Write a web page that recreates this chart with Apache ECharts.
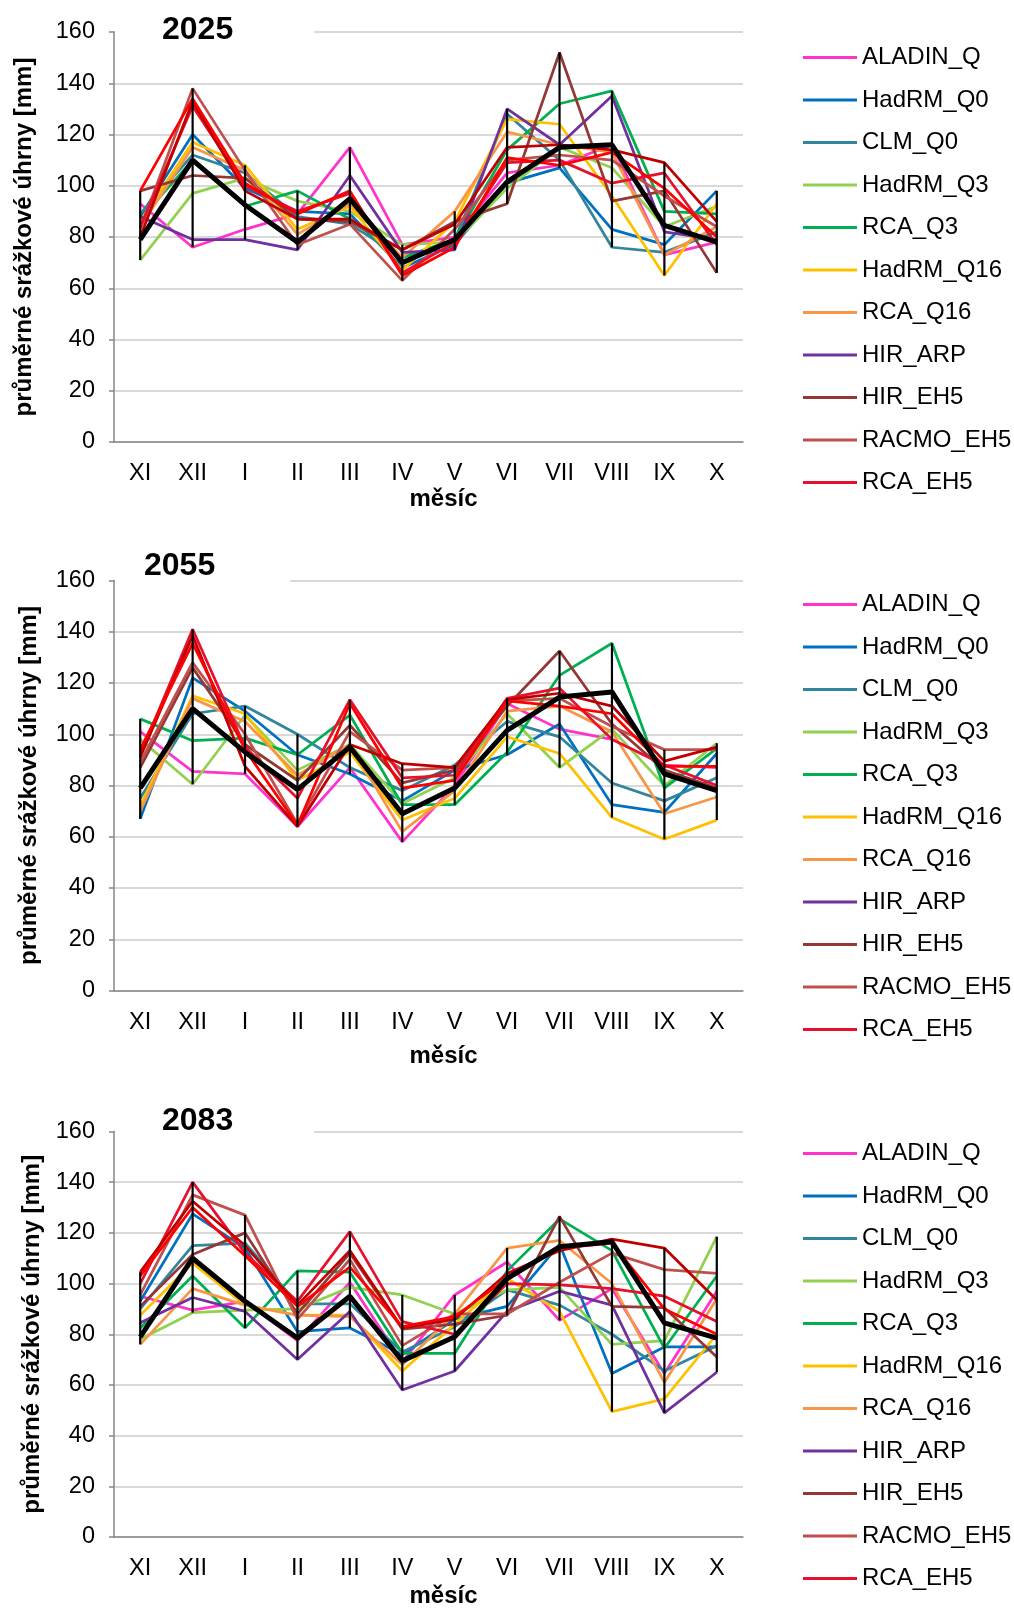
<!DOCTYPE html>
<html lang="cs">
<head>
<meta charset="utf-8">
<title>Průměrné srážkové úhrny</title>
<script src="https://cdn.jsdelivr.net/npm/echarts@6/dist/echarts.min.js"></script>
<style>
  html, body { margin: 0; padding: 0; background: #fff; }
  #chart { width: 1014px; height: 1609px; }
</style>
</head>
<body>
<div id="chart"></div>
<script>
// Months of the hydrological year (November .. October)
const months = ['XI', 'XII', 'I', 'II', 'III', 'IV', 'V', 'VI', 'VII', 'VIII', 'IX', 'X'];
const periods = ['2025', '2055', '2083'];
const modelNames = ['ALADIN_Q', 'HadRM_Q0', 'CLM_Q0', 'HadRM_Q3', 'RCA_Q3', 'HadRM_Q16',
                    'RCA_Q16', 'HIR_ARP', 'HIR_EH5', 'RACMO_EH5', 'RCA_EH5'];

// ---- 2025 ----
const ALADIN_Q_2025  = [93, 76, 83, 89, 115, 77, 80, 105, 108, 116, 73, 78];
const HadRM_Q0_2025  = [88, 120, 99, 90, 89, 68, 77, 101, 107, 83, 77, 98];
const CLM_Q0_2025    = [89, 112, 105, 88, 85, 72, 79, 128, 110, 76, 74, 82];
const HadRM_Q3_2025  = [71, 97, 103, 94, 90, 77, 78, 99, 115, 107, 84, 92];
const RCA_Q3_2025    = [87, 110, 92, 98, 87, 72, 79, 114, 132, 137, 90, 89];
const HadRM_Q16_2025 = [86, 117, 108, 83, 92, 67, 86, 126, 124, 96, 65, 93];
const RCA_Q16_2025   = [84, 115, 106, 81, 93, 72, 90, 121, 116, 113, 73, 84];
const HIR_ARP_2025   = [88, 79, 79, 75, 104, 74, 75, 130, 116, 135, 82, 79];
const HIR_EH5_2025   = [98, 104, 103, 87, 86, 75, 86, 93, 152, 94, 98, 66];
const RACMO_EH5_2025 = [83, 138, 106, 77, 85, 63, 83, 110, 112, 110, 96, 84];
const RCA_EH5_2025   = [84, 131, 100, 90, 97, 66, 78, 109, 110, 101, 105, 77];
const EH5_b_2025     = [80, 133, 98, 87, 87, 75, 85, 115, 116, 114, 109, 86];
const EH5_c_2025     = [98, 134, 101, 89, 98, 65, 76, 111, 108, 113, 99, 80];
const MEAN_2025      = [79, 110, 92.5, 78, 95, 70, 79, 101.5, 115, 116, 84.5, 78];

// ---- 2055 (no HIR_ARP run for this period) ----
const ALADIN_Q_2055  = [101, 85.5, 84.5, 64, 87, 58, 80, 112, 102, 98, 88, 87];
const HadRM_Q0_2055  = [67, 122, 109, 92, 84.5, 74, 86, 92, 104, 72.5, 69.5, 92.5];
const CLM_Q0_2055    = [75, 108, 111, 100, 87, 78, 88, 105, 99, 81, 74, 83];
const HadRM_Q3_2055  = [98, 80.5, 107.5, 86, 96, 73, 83, 108, 87, 102, 80, 96.5];
const RCA_Q3_2055    = [106, 97.5, 98.5, 92, 107.5, 72.5, 72.5, 93, 123, 135.5, 79, 94.5];
const HadRM_Q16_2055 = [72, 115, 108, 82, 93, 66.5, 75, 99, 92.5, 67.5, 59, 66.5];
const RCA_Q16_2055   = [70, 114, 105, 84, 96, 62, 78, 109, 111, 101, 69, 75.5];
const HIR_EH5_2055   = [87, 126, 96, 82, 103.5, 81, 86, 111, 132.5, 104, 86, 79];
const RACMO_EH5_2055 = [89, 128, 100, 65, 101, 86, 87, 113, 114, 103, 94, 94];
const RCA_EH5_2055   = [92, 141, 95, 75, 113.5, 83, 84, 114, 118, 98, 88, 80];
const EH5_b_2055     = [91, 138.5, 87.5, 64, 96, 88.5, 87, 113.5, 116, 111, 89.5, 95];
const EH5_c_2055     = [94, 135.5, 94, 64.5, 112, 79, 82, 113, 111, 108, 87.5, 87.5];
const MEAN_2055      = [79, 110, 93, 78.5, 95, 69, 79, 101.5, 114.5, 116.5, 84.5, 78];

// ---- 2083 ----
const ALADIN_Q_2083  = [95, 89.5, 93, 77.5, 100.5, 69, 95.5, 108.5, 85.5, 98, 64.5, 97];
const HadRM_Q0_2083  = [93, 127.5, 114, 81, 82.5, 72, 86, 91, 115.5, 64.5, 75, 75];
const CLM_Q0_2083    = [90, 115, 116, 92, 92, 73, 83, 97.5, 91.5, 80, 65.5, 75.5];
const HadRM_Q3_2083  = [78, 88.5, 89.5, 90, 98.5, 95.5, 88, 97.5, 98.5, 76, 77.5, 118.5];
const RCA_Q3_2083    = [82.5, 103, 82.5, 105, 104.5, 72.5, 72.5, 105, 125.5, 113, 74.5, 103];
const HadRM_Q16_2083 = [87.5, 108, 91.5, 87.5, 87.5, 65.5, 84, 102, 89, 49.5, 54.5, 80];
const RCA_Q16_2083   = [76, 98, 91.5, 87.5, 87, 68, 88, 114, 117, 100, 61, 94];
const HIR_ARP_2083   = [84.5, 94.5, 89, 70, 89, 58, 65.5, 89, 97, 91.5, 49, 65];
const HIR_EH5_2083   = [91, 111.5, 120, 88, 112, 82, 84, 87.5, 126.5, 91, 90.5, 71];
const RACMO_EH5_2083 = [95.5, 135, 127, 86, 109.5, 75.5, 88, 88, 100.5, 112, 105.5, 104];
const RCA_EH5_2083   = [100, 140, 112, 93, 120.5, 85, 80, 100, 99.5, 98, 95, 85];
const EH5_b_2083     = [104.5, 132.5, 115, 91.5, 113, 82.5, 86, 104, 113, 117.5, 114, 93.5];
const EH5_c_2083     = [103, 130, 111, 91, 106.5, 83, 87, 102, 114, 116, 90, 80];
const MEAN_2083      = [79, 110, 93, 78.5, 95, 69.5, 79, 102, 114.5, 116.5, 84.5, 78.5];

const yTicks = { min: 0, max: 160, step: 20 };

// Line colours per run
const colors = {
  ALADIN_Q: '#FF33CC', HadRM_Q0: '#0070C0', CLM_Q0: '#31859C', HadRM_Q3: '#92D050',
  RCA_Q3: '#00B050', HadRM_Q16: '#FFC000', RCA_Q16: '#F79646', HIR_ARP: '#7030A0',
  HIR_EH5: '#953735', RACMO_EH5: '#C0504D', RCA_EH5: '#E8112D',
  EH5_b: '#C00000', EH5_c: '#FF0000'
};

// Runs drawn in each panel (name -> values)
const panels = [
  [['ALADIN_Q', ALADIN_Q_2025], ['HadRM_Q0', HadRM_Q0_2025], ['CLM_Q0', CLM_Q0_2025],
   ['HadRM_Q3', HadRM_Q3_2025], ['RCA_Q3', RCA_Q3_2025], ['HadRM_Q16', HadRM_Q16_2025],
   ['RCA_Q16', RCA_Q16_2025], ['HIR_ARP', HIR_ARP_2025], ['HIR_EH5', HIR_EH5_2025],
   ['RACMO_EH5', RACMO_EH5_2025], ['RCA_EH5', RCA_EH5_2025], ['EH5_b', EH5_b_2025], ['EH5_c', EH5_c_2025]],
  [['ALADIN_Q', ALADIN_Q_2055], ['HadRM_Q0', HadRM_Q0_2055], ['CLM_Q0', CLM_Q0_2055],
   ['HadRM_Q3', HadRM_Q3_2055], ['RCA_Q3', RCA_Q3_2055], ['HadRM_Q16', HadRM_Q16_2055],
   ['RCA_Q16', RCA_Q16_2055], ['HIR_EH5', HIR_EH5_2055],
   ['RACMO_EH5', RACMO_EH5_2055], ['RCA_EH5', RCA_EH5_2055], ['EH5_b', EH5_b_2055], ['EH5_c', EH5_c_2055]],
  [['ALADIN_Q', ALADIN_Q_2083], ['HadRM_Q0', HadRM_Q0_2083], ['CLM_Q0', CLM_Q0_2083],
   ['HadRM_Q3', HadRM_Q3_2083], ['RCA_Q3', RCA_Q3_2083], ['HadRM_Q16', HadRM_Q16_2083],
   ['RCA_Q16', RCA_Q16_2083], ['HIR_ARP', HIR_ARP_2083], ['HIR_EH5', HIR_EH5_2083],
   ['RACMO_EH5', RACMO_EH5_2083], ['RCA_EH5', RCA_EH5_2083], ['EH5_b', EH5_b_2083], ['EH5_c', EH5_c_2083]]
];
const means = [MEAN_2025, MEAN_2055, MEAN_2083];

// Layout of the three stacked panels
const FONT = '"Liberation Sans", Arial, sans-serif';
const gridTops = [32, 580.5, 1131.5];
const gridHeight = 410;
const titleTops = [10.5, 546.5, 1101];
const titlePads = [[4, 81, 8, 47], [4, 75, 8, 29], [4, 81, 8, 47]];
const legendTops = [40.5, 587.5, 1136.5];
const xNameGaps = [43, 54, 47];
const yNameGaps = [78, 73, 70];

const grid = gridTops.map(t => ({ left: 114, right: 271, top: t, height: gridHeight }));

const title = periods.map((p, k) => ({
  text: p, left: 115, top: titleTops[k], padding: titlePads[k], backgroundColor: '#fff',
  textStyle: { fontFamily: FONT, fontSize: 32, fontWeight: 'bold', color: '#000', lineHeight: 32 }
}));

const legend = periods.map((p, k) => ({
  data: modelNames, orient: 'vertical', left: 798, top: legendTops[k],
  icon: 'rect', itemWidth: 54, itemHeight: 3, itemGap: 18.5,
  selectedMode: false,
  textStyle: { fontFamily: FONT, fontSize: 24, color: '#000', lineHeight: 24 }
}));

const xAxis = periods.map((p, k) => ({
  type: 'category', gridIndex: k, data: months, boundaryGap: true,
  axisTick: { show: false },
  axisLine: { lineStyle: { color: '#868686', width: 1.5 } },
  axisLabel: { fontFamily: FONT, fontSize: 23.5, color: '#000', margin: 20, interval: 0 },
  name: 'měsíc', nameLocation: 'middle', nameGap: xNameGaps[k],
  nameTextStyle: { fontFamily: FONT, fontSize: 24, fontWeight: 'bold', color: '#000', padding: [0, 0, 0, 30] }
}));

const yAxis = periods.map((p, k) => ({
  type: 'value', gridIndex: k, min: yTicks.min, max: yTicks.max, interval: yTicks.step,
  axisLine: { show: true, lineStyle: { color: '#868686', width: 1.5 } },
  axisTick: { show: true, length: 5, lineStyle: { color: '#868686', width: 1.5 } },
  splitLine: { lineStyle: { color: '#D9D9D9', width: 2 } },
  axisLabel: { fontFamily: FONT, fontSize: 23.5, color: '#000', margin: 19 },
  name: 'průměrné srážkové úhrny [mm]', nameLocation: 'middle', nameRotate: 90, nameGap: yNameGaps[k],
  nameTextStyle: { fontFamily: FONT, fontSize: 24, fontWeight: 'bold', color: '#000' }
}));

const series = [];
panels.forEach((runs, k) => {
  runs.forEach(([name, values]) => {
    series.push({
      type: 'line', name: name, xAxisIndex: k, yAxisIndex: k, data: values,
      color: colors[name], symbol: 'none', z: 2,
      lineStyle: { color: colors[name], width: 2.75 }
    });
  });
  // spread of the runs in each month: vertical bar from lowest to highest value
  const spread = months.map((m, i) => {
    const vals = runs.map(r => r[1][i]).filter(v => v != null);
    return [i, Math.min(...vals), Math.max(...vals)];
  });
  series.push({
    type: 'custom', name: 'rozpětí', xAxisIndex: k, yAxisIndex: k, data: spread, z: 3, silent: true,
    encode: { x: 0, y: [1, 2] },
    renderItem: (params, api) => {
      const lo = api.coord([api.value(0), api.value(1)]);
      const hi = api.coord([api.value(0), api.value(2)]);
      return { type: 'line', shape: { x1: lo[0], y1: lo[1], x2: hi[0], y2: hi[1] },
               style: { stroke: '#000', lineWidth: 2.2 } };
    }
  });
  series.push({
    type: 'line', name: 'průměr', xAxisIndex: k, yAxisIndex: k, data: means[k],
    color: '#000', symbol: 'none', z: 4, lineStyle: { color: '#000', width: 5 }
  });
});

const chart = echarts.init(document.getElementById('chart'), null, { renderer: 'canvas' });
chart.setOption({
  animation: false,
  backgroundColor: '#fff',
  title, legend, grid, xAxis, yAxis, series
});
</script>
</body>
</html>
